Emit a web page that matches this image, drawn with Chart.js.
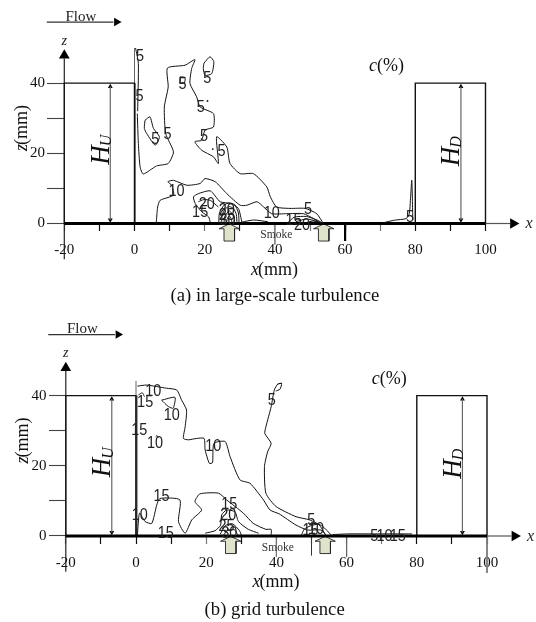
<!DOCTYPE html>
<html><head><meta charset="utf-8">
<style>html,body{margin:0;padding:0;background:#fff;width:536px;height:622px;overflow:hidden}
.p{position:absolute;left:0;width:536px;height:311px}</style>
<script src="https://cdn.jsdelivr.net/npm/chart.js@4"></script></head>
<body>
<div class="p" style="top:0"><canvas id="ca"></canvas></div>
<div class="p" style="top:311px"><canvas id="cb"></canvas></div>
<script>
const xTickValues=[-20,-10,0,10,20,30,40,50,60,70,80,90,100];
const xTickLabels=['-20','','0','','20','','40','','60','','80','','100'];
const zTickValues=[0,10,20,30,40];
const zTickLabels=['0','','20','','40'];
const wallUp=[[-20,0],[-20,40],[0,40],[0,0]];
const boxDown=[[80,0],[80,40],[100,40],[100,0]];
// ---- panel (a) contours, x(mm), z(mm)
const a5main=[[0.8,31.3],[1.1,22.8],[1.6,16.1],[2.5,14.1],[6.3,16.4],[9.6,17.1],[11.1,20.4],[8.9,25.6],[8.5,33.2],[9.6,38.9],[9.4,44.3],[14.4,45.1],[17.2,46.7],[16.3,44.2],[15.8,39.9],[17.7,36.1],[18.7,33.2],[22.5,31.3],[22.5,27.5],[20.1,26.6],[19.1,23.7],[17.2,23.3],[19.1,20.9],[22.5,19],[23.9,17.1],[23.4,24.7],[26.3,21.8],[27.2,17.1],[30.1,14.2],[33.9,14.2],[37.7,10.4],[38.7,7.6],[40.5,4.7],[44.3,4.3],[48.6,4.3],[51.9,2.8],[53.8,0]];
const a5wall=[[0.3,50],[1.1,45.6],[0.9,32]];
const a5loop1=[[19.8,45.7],[21.5,47.5],[22.6,46.1],[22,42.7],[20.1,42.2],[19.6,44.2],[19.8,45.7]];
const a5loop2=[[3,29.4],[4.4,30.4],[5.4,27.1],[7.1,24.7],[5.9,22.3],[3.5,25.6],[2.8,27.1],[3,29.4]];
const a5loop3=[[13,41.8],[14.4,41.6],[14.2,40],[13,40],[13,41.8]];
const a5floor=[[30.6,0.4],[34,1],[38,0.5]];
const a5down=[[70.8,0.2],[74.1,0.95],[77.4,1.4],[78.3,2.8],[78.6,6.6],[79,12.3],[79.3,1]];
const a10=[[6.2,0.2],[6.6,4.7],[7.3,6.6],[11.1,8.1],[10.6,10.9],[9.5,11.9],[11.1,12.3],[14.9,10.9],[18.7,11.4],[20.1,12.8],[23,11.9],[26.3,8.5],[30.1,5.2],[32,5.2],[34.9,6.2],[36.8,4.7],[39.1,2.8],[43.4,2.8],[48.1,2.8],[51,1.4],[52.9,0.2]];
const a15=[[21.6,0.3],[21.1,1.9],[19.2,3.3],[17.3,5.7],[16.8,7.6],[18.2,8.5],[21.6,9.3],[24.4,6.2],[27.3,5.7],[29.6,4.3],[30.6,0.3]];
const a20=[[18.2,6.2],[19.7,6.8],[21.6,6.6],[23.9,4.7]];
const aSrc1=[[24,0],[24.2,3],[25.5,5.2],[27,5.9],[28.6,5.3],[29.6,3],[29.8,0]];
const aSrc2=[[24.8,0],[25,2.6],[26,4.3],[27,4.8],[28.2,4.3],[29,2.6],[29.2,0]];
const aSrc3=[[25.5,0],[25.7,2],[27,3.6],[28.3,2],[28.5,0]];
const aSrc4=[[26.2,0],[26.4,1.2],[27,2.2],[27.6,1.2],[27.8,0]];
const a15r=[[43.5,0],[45.5,1.8],[49,2],[52,1],[53.8,0]];
const a20r=[[46,0.5],[49,1.3],[52,0.6],[53.5,0]];
const a25r=[[49,0.3],[51,0.7],[53.2,0.1]];
const aSpecks=[[20.8,34.9],[22.3,21.2]];
const aLabels=[['5',1.6,47.5],['5',1.4,36.1],['5',13.7,39.7],['5',20.7,41.3],['5',18.9,33.2],['5',19.8,24.7],['5',24.8,20.7],['5',5.9,23.9],['5',9.4,25.5],['10',12,9.2],['15',18.7,3.3],['20',20.6,5.5],['20',26.3,3.8],['25',26.3,2.4],['30',26.5,1],['10',39.1,2.8],['5',49.4,4.1],['15',45.3,0.9],['20',47.7,-0.5],['5',78.5,1.9]];
// ---- panel (b) contours
const b10main=[[0.4,42.7],[3,43],[8.7,42.1],[11.6,41.6],[13,38.7],[14.4,35.9],[14,31.1],[13.5,27.8],[14.9,27.4],[17.3,27.8],[19.4,27.8],[19.7,24.5],[20.9,20.7],[21.8,20.9],[22.2,26.4],[25.4,26.9],[26.8,22.6],[29.6,16],[32.5,15],[36.3,10.3],[38.2,7.4],[40.8,6.3],[45.6,3.1],[48.9,1.7],[52.7,1.7],[54.1,0.3]];
const b5=[[41.5,43.5],[40.4,43.3],[39.4,41.6],[38.5,36.8],[37,31.1],[36.7,29.2],[38.5,26.4],[37.5,24],[36.6,19.8],[37,12.2],[39.9,8.4],[45.6,5.5],[49.4,4.6],[53.2,2.7],[55.6,0.3]];
const b5loop=[[40.4,43.3],[41.5,43.5],[41,41.8],[39.8,41.3]];
const b10loop=[[7.3,38.7],[11.1,39.5],[10.6,36.4],[9.2,36.9],[7.3,38.7]];
const b15top=[[0.7,40.2],[1.8,40.8],[2.4,39.7]];
const b10dot=[[5.6,28.3],[6,28.6],[6.3,28]];
const b15=[[0.4,0.3],[1,6.5],[2.6,4.1],[4.5,3.6],[5.9,8.8],[6.8,10.7],[12.5,10.3],[12.1,4.1],[14,0.8],[15.9,4.6],[18.7,7.4],[16.8,9.8],[18.2,12],[23.5,12.2],[25.8,10.3],[30.6,6.5],[33.4,3.6],[37,1.9],[38.5,1.9],[38.5,0.3]];
const b20=[[19.7,0.8],[22.5,1.5],[24.1,3.1],[24.4,6],[25.8,7.4],[28.2,6.9],[29.2,4.1],[32,1.9],[34.9,0.8]];
const b25=[[24,0.5],[25.5,3],[27.5,3.5],[29.5,1.5],[30,0.3]];
const b30=[[25,0.3],[26,1.5],[28,1.8],[29,0.4]];
const bRight=[[47,0],[48,2],[50,3],[52,3.3],[53,2],[54,0.3]];
const bFloor=[[56,0.4],[60.3,0.6],[68,0.6],[78.6,0.6]];
const bLabels=[['10',4.9,41.3],['15',2.6,38],['10',10.2,34.5],['15',0.95,30],['10',5.4,26.4],['10',22,25.5],['5',38.7,38.7],['15',7.3,11.4],['10',1.1,6],['15',8.5,0.9],['15',26.6,9.1],['20',26.3,6],['25',25.8,2.7],['30',26.6,0.9],['5',49.9,4.4],['10',51.3,1.9],['15',49.7,1.7],['5',67.9,-0.2],['10',70.8,-0.2],['15',74.6,-0.2]];
const SERIF='"Liberation Serif"',SANS='"Liberation Sans"';
const pts=a=>a.map(p=>({x:p[0],y:p[1]}));
const line=(a,color,width,extra)=>Object.assign({data:pts(a),showLine:true,borderColor:color,borderWidth:width,pointRadius:0,tension:0,borderCapStyle:'butt',borderJoinStyle:'miter',fill:false,clip:false},extra||{});
const curve=a=>line(a,'#111',1,{tension:0.2});
const arrowHead=(x,z,rot,r,color)=>({data:[{x,y:z}],showLine:false,pointStyle:'triangle',rotation:rot,pointRadius:r,pointBackgroundColor:color||'#000',pointBorderColor:color||'#000',pointBorderWidth:0,clip:false});
const source=c=>line([[c,-0.1],[c+2.9,-1.5],[c+1.5,-1.5],[c+1.5,-5],[c-1.5,-5],[c-1.5,-1.5],[c-2.9,-1.5],[c,-0.1]],'#222',0.9,{fill:'shape',backgroundColor:'#dfe3cc'});
function labelText(ctx,s,x,y,font,color,align){ctx.font=font;ctx.fillStyle=color||'#111';ctx.textAlign=align||'center';ctx.textBaseline='middle';ctx.fillText(s,x,y);}
function contourLabel(ctx,s,x,y){ctx.save();ctx.translate(x,y);ctx.scale(0.85,1);labelText(ctx,s,0,0,'17px '+SANS,'#222');ctx.restore();}
function runs(ctx,x,y,parts){ctx.textAlign='left';ctx.textBaseline='middle';let cx=x;for(const[s,font,dy,adv]of parts){ctx.font=font;ctx.fillStyle='#111';ctx.fillText(s,cx,y+(dy||0));cx+=ctx.measureText(s).width+(adv||0);}}
function rotated(ctx,cx,cy,parts){ctx.save();ctx.translate(cx,cy);ctx.rotate(-Math.PI/2);let w=0;for(const[s,font,dy,adv]of parts){ctx.font=font;w+=ctx.measureText(s).width+(adv||0);}runs(ctx,-w/2,0,parts);ctx.restore();}
function panel(id,cfg){
 const contours=cfg.contours.map(curve);
 const ds=[
  ...contours,
  line([[-20,0],[100,0]],'#000',2.8),
  line([[100,0],[107,0]],'#555',1.2),
  arrowHead(107.9,0,90,6.2),
  line(wallUp,'#111',1.2),
  line(boxDown,'#111',1.4),
  line([[-20,-10.2],[-20,47]],'#222',1.2),
  arrowHead(-20,47.9,0,6.2),
  line([[0,0],[0,cfg.wallTop]],'#666',1),
  line([[0.1,0],[0.1,cfg.wallThick]],cfg.wallColor,2.2),
  line([[-6.9,1],[-6.9,39]],'#666',1.2),arrowHead(-6.9,39,0,2.8),arrowHead(-6.9,1,180,2.8),
  line([[93,1],[93,39]],'#666',1.2),arrowHead(93,39,0,2.8),arrowHead(93,1,180,2.8),
  line([[-25,57.4],[-6,57.4]],'#333',1.3),arrowHead(-5.1,57.4,90,5),
  ...cfg.longTicks.map(t=>line([[t[0],0],[t[0],t[1]]],t[2],t[3])),
  source(27),source(53.9),
  {data:pts(cfg.specks),showLine:false,pointRadius:0.9,pointBackgroundColor:'#111',pointBorderWidth:0,clip:false}
 ];
 const tickCol=v=>cfg.darkTicks.includes(v)?'#111':'#777';
 const fmtZ=v=>zTickLabels[zTickValues.indexOf(v)];
 new Chart(document.getElementById(id),{type:'scatter',data:{datasets:ds},
 options:{responsive:false,animation:false,events:[],devicePixelRatio:1,
  layout:{padding:cfg.padding},
  plugins:{legend:{display:false},tooltip:{enabled:false},title:{display:false}},
  scales:{
   x:{type:'linear',min:-35,max:112,position:{y:0},border:{display:false},
     grid:{drawOnChartArea:false,drawTicks:true,tickLength:8,tickColor:c=>tickCol(c.tick?c.tick.value:0),tickWidth:1.2},
     afterBuildTicks:s=>{s.ticks=xTickValues.map(v=>({value:v}));},
     ticks:{autoSkip:false,maxRotation:0,padding:cfg.xPad,color:'#111',font:{family:SERIF,size:15},callback:(v)=>xTickLabels[xTickValues.indexOf(v)]}},
   y:{type:'linear',min:cfg.zMin,max:60,position:{x:-20},border:{display:false},
     grid:{drawOnChartArea:false,drawTicks:true,tickLength:17,tickColor:'#444',tickWidth:1.1},
     afterBuildTicks:s=>{s.ticks=zTickValues.map(v=>({value:v}));},
     ticks:{autoSkip:false,display:false}},
   zLabels:{type:'linear',axis:'y',min:cfg.zMin,max:60,position:{x:-25.5},border:{display:false},
     grid:{drawOnChartArea:false,drawTicks:false},
     afterBuildTicks:s=>{s.ticks=zTickValues.map(v=>({value:v}));},
     ticks:{autoSkip:false,color:'#111',font:{family:SERIF,size:15},callback:fmtZ}}
  }},
 plugins:[{id:'notes',afterDatasetsDraw(ch){
   const c=ch.ctx,X=v=>ch.scales.x.getPixelForValue(v),Z=v=>ch.scales.y.getPixelForValue(v);
   c.save();
   for(const[s,x,z]of cfg.labels)contourLabel(c,s,X(x),Z(z));
   labelText(c,'Smoke',X(40.4),Z(-3.35),'11.5px '+SERIF,'#333');
   labelText(c,'Flow',X(cfg.flowX),Z(cfg.flowZ),'15px '+SERIF,'#222');
   labelText(c,'z',X(-20),Z(52),'italic 14px '+SERIF,'#222');
   labelText(c,'x',X(112.4),Z(-0.1),'italic 16px '+SERIF,'#222');
   runs(c,X(cfg.cX),Z(44.7),[['c','italic 18px '+SERIF],['(%)','18px '+SERIF]]);
   runs(c,X(33.2),Z(-13.2),[['x','italic 18px '+SERIF,0,-1],['(mm)','18px '+SERIF]]);
   rotated(c,X(-32),Z(27.2),[['z','italic 18px '+SERIF,0,-1],['(mm)','18px '+SERIF]]);
   rotated(c,X(-9.3),Z(21),[['H','italic 27px '+SERIF,0,-1],['U','italic 16px '+SERIF,5]]);
   rotated(c,X(90.5),Z(20.6),[['H','italic 27px '+SERIF,0,-1],['D','italic 16px '+SERIF,5]]);
   labelText(c,cfg.caption,X(cfg.capX),Z(cfg.capZ),'18.7px '+SERIF,'#111');
   c.restore();
 }}]});
}
document.getElementById('ca').width=536;document.getElementById('ca').height=311;
document.getElementById('cb').width=536;document.getElementById('cb').height=311;
panel('ca',{
 contours:[a5main,a5wall,a5loop1,a5loop2,a5loop3,a5floor,a5down,a10,a15,a20,aSrc1,aSrc2,aSrc3,aSrc4,a15r,a20r,a25r],
 labels:aLabels,specks:aSpecks,zMin:-20,
 padding:{left:134.5-35*3.51,right:536-(134.5+112*3.51),top:223.5-60*3.51,bottom:311-(223.5+20*3.51)},
 wallTop:50,wallThick:40,wallColor:'#777',xPad:10,
 darkTicks:[-10,0,10,30,60,80,90,100],
 longTicks:[[60,-5,'#000',2.2],[40,-6,'#888',1]],
 flowX:-15.3,flowZ:58.7,cX:66.8,capX:40,capZ:-20.6,
 caption:'(a) in large-scale turbulence'
});
panel('cb',{
 contours:[b10main,b5,b5loop,b10loop,b15top,b10dot,b15,b20,b25,b30,bRight,bFloor],
 labels:bLabels,specks:[],zMin:-20,
 padding:{left:136-35*3.51,right:536-(136+112*3.51),top:225-60*3.51,bottom:311-(225+20*3.51)},
 wallTop:44.2,wallThick:40,wallColor:'#333',xPad:10,
 darkTicks:[-10,0,10,30,80,90],
 longTicks:[[40,-6,'#777',1],[50,-5.5,'#333',1],[60,-6,'#666',1],[100,-10.5,'#777',1]],
 flowX:-15.3,flowZ:58.9,cX:67.2,capX:39.5,capZ:-21.1,
 caption:'(b) grid turbulence'
});
</script>
</body></html>
